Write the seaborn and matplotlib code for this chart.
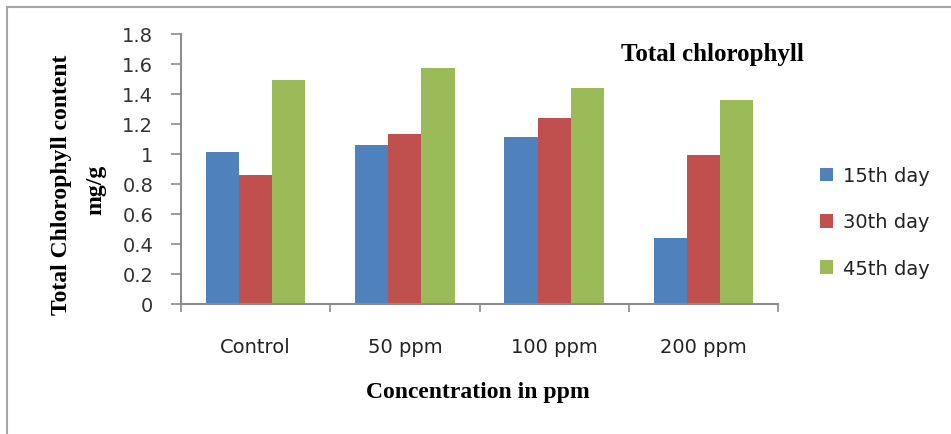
import matplotlib
matplotlib.use("Agg")
import matplotlib.pyplot as plt
import seaborn as sns
import pandas as pd
from matplotlib.lines import Line2D

categories = ["Control", "50 ppm", "100 ppm", "200 ppm"]
series_names = ["15th day", "30th day", "45th day"]
day15 = [1.01, 1.06, 1.11, 0.44]
day30 = [0.86, 1.13, 1.24, 0.99]
day45 = [1.49, 1.57, 1.44, 1.36]
y_ticks = [0, 0.2, 0.4, 0.6, 0.8, 1, 1.2, 1.4, 1.6, 1.8]
y_tick_labels = ["0", "0.2", "0.4", "0.6", "0.8", "1", "1.2", "1.4", "1.6", "1.8"]

rows = []
for name, vals in zip(series_names, [day15, day30, day45]):
    for c, v in zip(categories, vals):
        rows.append({"Concentration": c, "Day": name, "Value": v})
df = pd.DataFrame(rows)

sns.set_theme(style="white")
plt.rcParams['font.family'] = ['DejaVu Sans']

fig = plt.figure(figsize=(9.51, 4.35), dpi=100)
ax = fig.add_axes([181/951, 1-304.5/435, 597/951, (304.5-35)/435])

palette = ["#4F81BD", "#C0504D", "#9BBB59"]
sns.barplot(data=df, x="Concentration", y="Value", hue="Day", order=categories,
            hue_order=series_names, palette=palette, width=0.667, ax=ax,
            saturation=1, edgecolor="none", linewidth=0)

ax.set_xlim(-0.5, 3.5)
ax.set_ylim(0, 1.8)
ax.set_yticks(y_ticks)
ax.set_yticklabels(y_tick_labels)
ax.set_xlabel("")
ax.set_ylabel("")

for s in ["top", "right"]:
    ax.spines[s].set_visible(False)
for s in ["left", "bottom"]:
    ax.spines[s].set_color("#8c8c8c")
    ax.spines[s].set_linewidth(1.5)

ax.tick_params(axis="y", direction="out", length=7, width=1.2, color="#8c8c8c",
               labelsize=14, labelcolor="#333333", pad=13, left=True)
ax.set_xticks([0, 1, 2, 3])
ax.set_xticklabels(categories)
ax.tick_params(axis="x", which="major", length=0, labelsize=14, labelcolor="#222222", pad=24)
ax.set_xticks([-0.5, 0.5, 1.5, 2.5, 3.5], minor=True)
ax.tick_params(axis="x", which="minor", direction="out", length=6, width=1.2,
               color="#8c8c8c", bottom=True)

leg = ax.legend(loc="center left", bbox_to_anchor=(802/951, 1-223/435),
                bbox_transform=fig.transFigure, frameon=False, fontsize=14,
                handlelength=0.7, handleheight=0.7, handletextpad=0.5,
                labelspacing=1.4)
for t in leg.get_texts():
    t.set_color("#222222")

serif = ['Liberation Serif', 'DejaVu Serif']
fig.text(712/951, 1-55/435, "Total chlorophyll", family=serif, fontweight="bold",
         fontsize=18, ha="center", va="center", color="black")
fig.text(478/951, 1-393/435, "Concentration in ppm", family=serif, fontweight="bold",
         fontsize=17, ha="center", va="center", color="black")
fig.text(62/951, 1-185/435, "Total Chlorophyll content", family=serif, fontweight="bold",
         fontsize=17, ha="center", va="center", rotation=90, color="black")
fig.text(96/951, 1-190/435, "mg/g", family=serif, fontweight="bold",
         fontsize=17, ha="center", va="center", rotation=90, color="black")

fig.add_artist(Line2D([7/951, 7/951], [0, 1-8/435], transform=fig.transFigure,
                      color="#a6a6a6", linewidth=1.5))
fig.add_artist(Line2D([7/951, 1], [1-8/435, 1-8/435], transform=fig.transFigure,
                      color="#a6a6a6", linewidth=1.5))

fig.savefig("out.png", dpi=100)
